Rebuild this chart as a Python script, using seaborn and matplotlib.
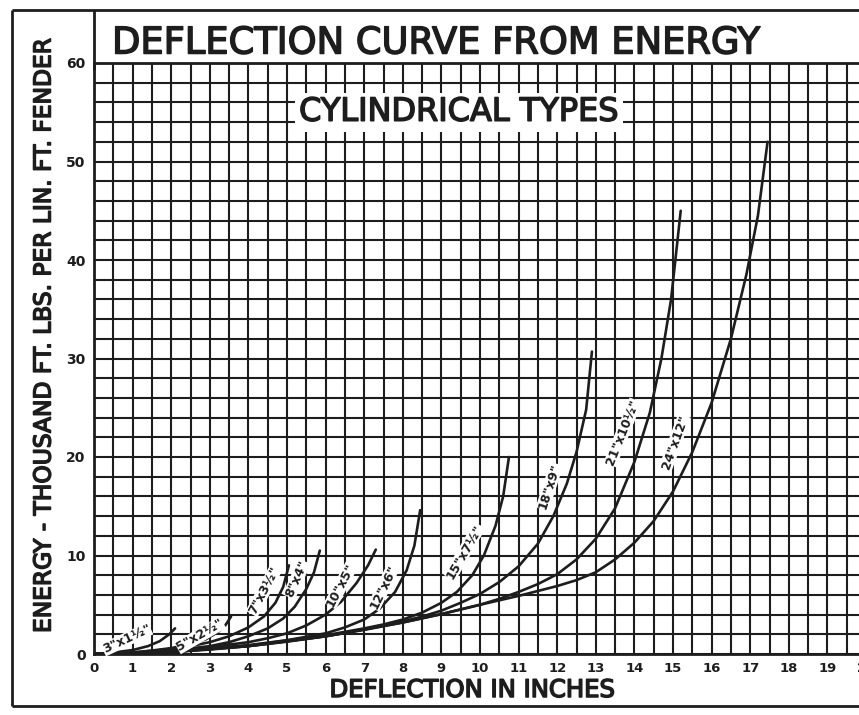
import matplotlib
matplotlib.use("Agg")
import matplotlib.pyplot as plt
import matplotlib.patheffects as pe
from matplotlib.lines import Line2D
import seaborn as sns
import pandas as pd
import numpy as np

sns.set_theme(style="white")
plt.rcParams['font.family'] = ['DejaVu Sans']

INK = "#1d1d1d"

# Fender sizes (O.D. x I.D.) and their energy-deflection curves
sizes = ['3"x1½"', '5"x2½"', '7"x3½"', '8"x4"', '10"x5"', '12"x6"',
         '15"x7½"', '18"x9"', '21"x10½"', '24"x12"']

defl_3 = [0, 0.5, 1.0, 1.4, 1.7, 1.95, 2.1]
energy_3 = [0, 0.15, 0.4, 0.8, 1.3, 2.0, 2.6]

defl_5 = [0, 0.5, 1.0, 1.5, 2.0, 2.5, 2.9, 3.2, 3.4, 3.55]
energy_5 = [0, 0.05, 0.15, 0.35, 0.6, 1.0, 1.5, 2.2, 2.9, 3.8]

defl_7 = [0, 1, 2, 2.5, 3, 3.5, 4, 4.4, 4.7, 4.9, 5.05]
energy_7 = [0, 0.15, 0.5, 0.8, 1.2, 1.8, 2.7, 3.8, 5.2, 6.8, 9.0]

defl_8 = [0, 1, 2, 3, 3.5, 4, 4.5, 4.9, 5.2, 5.5, 5.7, 5.85]
energy_8 = [0, 0.1, 0.35, 0.8, 1.2, 1.8, 2.6, 3.6, 4.8, 6.6, 8.3, 10.5]

defl_10 = [0, 1, 2, 3, 4, 4.5, 5, 5.5, 6, 6.4, 6.8, 7.1, 7.3]
energy_10 = [0, 0.1, 0.3, 0.7, 1.2, 1.6, 2.1, 2.9, 4.0, 5.3, 7.2, 9.0, 10.6]

defl_12 = [0, 2, 4, 5, 6, 6.5, 7, 7.4, 7.8, 8.1, 8.3, 8.45]
energy_12 = [0, 0.25, 0.9, 1.4, 2.1, 2.7, 3.5, 4.6, 6.3, 8.5, 11.0, 14.6]

defl_15 = [0, 2, 4, 6, 7, 7.5, 8, 8.5, 9, 9.4, 9.8, 10.1, 10.4, 10.6, 10.75]
energy_15 = [0, 0.2, 0.85, 1.9, 2.6, 3.0, 3.5, 4.2, 5.2, 6.3, 8.0, 10.0, 13.0, 16.0, 20.0]

defl_18 = [0, 2, 4, 6, 7, 8, 8.5, 9, 9.5, 10, 10.5, 11, 11.5, 11.9, 12.25,
           12.5, 12.75, 12.9]
energy_18 = [0, 0.2, 0.8, 1.8, 2.5, 3.3, 3.8, 4.4, 5.2, 6.1, 7.3, 8.9, 11.2, 14.0,
             17.3, 20.5, 24.8, 30.7]

defl_21 = [0, 2, 4, 6, 8, 9, 10, 10.5, 11, 11.5, 12, 12.5, 13, 13.5, 14, 14.4,
           14.7, 14.95, 15.2]
energy_21 = [0, 0.2, 0.8, 1.8, 3.2, 4.05, 5.0, 5.6, 6.3, 7.1, 8.1, 9.6, 11.7, 14.8,
             19.5, 24.5, 30.0, 36.0, 45.0]

defl_24 = [0, 1, 2, 3, 4, 5, 6, 7, 8, 9, 10, 11, 12, 12.5, 13, 13.5, 14, 14.5,
           15, 15.5, 16, 16.5, 16.9, 17.2, 17.45]
energy_24 = [0, 0.05, 0.2, 0.45, 0.8, 1.25, 1.8, 2.45, 3.2, 4.05, 5.0, 5.9, 6.9,
             7.5, 8.3, 9.6, 11.3, 13.5, 16.5, 20.5, 25.5, 32.0, 38.5, 44.5, 52.0]

deflections = [defl_3, defl_5, defl_7, defl_8, defl_10, defl_12,
               defl_15, defl_18, defl_21, defl_24]
energies = [energy_3, energy_5, energy_7, energy_8, energy_10, energy_12,
            energy_15, energy_18, energy_21, energy_24]

# label placement beside each curve: (x, y, rotation)
label_pos = [(0.85, 1.5, 25), (2.75, 1.9, 30), (4.4, 6.4, 62), (5.25, 7.6, 66),
             (6.4, 7.0, 62), (7.5, 6.8, 64), (9.6, 10.4, 60), (11.8, 17.0, 72),
             (13.7, 22.5, 68), (15.05, 21.5, 70)]

x_ticks = list(range(0, 21))
y_ticks = [0, 10, 20, 30, 40, 50, 60]

rows = []
for name, d, e in zip(sizes, deflections, energies):
    for xv, yv in zip(d, e):
        rows.append({"size": name, "deflection": xv, "energy": yv})
df = pd.DataFrame(rows)

W, H = 859, 715
fig = plt.figure(figsize=(W / 100, H / 100), dpi=100)
fig.patch.set_facecolor("white")

x0, y0 = 94, 654          # origin in pixels
px_x, px_y = 38.6, 9.85   # pixels per unit
ax = fig.add_axes([x0 / W, (H - y0) / H, 20 * px_x / W, 60 * px_y / H])

sns.lineplot(data=df, x="deflection", y="energy", units="size", estimator=None,
             sort=False, color=INK, lw=1.9, ax=ax, legend=False, zorder=5)

ax.set_xlim(0, 20)
ax.set_ylim(0, 60)
ax.set_xticks(x_ticks)
ax.set_xticks(np.arange(0, 20.01, 0.5), minor=True)
ax.set_yticks(y_ticks)
ax.set_yticks(np.arange(0, 60.01, 2), minor=True)
ax.grid(True, which="both", color=INK, lw=1.5)
ax.set_axisbelow(True)
ax.tick_params(which="both", length=0)
ax.set_xticklabels([str(t) for t in x_ticks], fontsize=9.5, fontweight="bold", color=INK)
ax.set_yticklabels([str(t) for t in y_ticks], fontsize=10, fontweight="bold", color=INK)
ax.tick_params(axis="x", pad=6)
ax.tick_params(axis="y", pad=6)
for s in ax.spines.values():
    s.set_color(INK)
    s.set_linewidth(2.0)
ax.set_xlabel("")
ax.set_ylabel("")

for name, (lx, ly, rot) in zip(sizes, label_pos):
    ax.text(lx, ly, name, rotation=rot, fontsize=9, fontweight="bold", color=INK,
            ha="center", va="center", zorder=6, rotation_mode="anchor",
            bbox=dict(facecolor="white", edgecolor="none", pad=0.2))

heavy = [pe.withStroke(linewidth=1.1, foreground=INK)]

ax.text(9.45, 55.0, "CYLINDRICAL TYPES", fontsize=23, color=INK,
        ha="center", va="center", zorder=6, path_effects=heavy,
        bbox=dict(facecolor="white", edgecolor="none", pad=3))

# outer frame, title strip and axis captions
def fline(xs, ys, lw=2.0):
    fig.add_artist(Line2D([x / W for x in xs], [1 - y / H for y in ys],
                          color=INK, lw=lw, solid_capstyle="butt"))

fline([12, W], [10, 10])
fline([12, 12], [10, 706])
fline([12, W], [706, 706])
fline([x0, x0], [10, 70])

fig.text(436 / W, 1 - 43 / H, "DEFLECTION CURVE FROM ENERGY", fontsize=26.5,
         color=INK, ha="center", va="center", path_effects=heavy)
fig.text(44 / W, 1 - 336 / H, "ENERGY - THOUSAND FT. LBS. PER LIN. FT. FENDER",
         fontsize=16.8, color=INK, rotation=90, ha="center", va="center",
         path_effects=heavy)
fig.text(472 / W, 1 - 690 / H, "DEFLECTION IN INCHES", fontsize=17.5,
         color=INK, ha="center", va="center", path_effects=heavy)

fig.savefig("out.png", dpi=100, facecolor="white")
